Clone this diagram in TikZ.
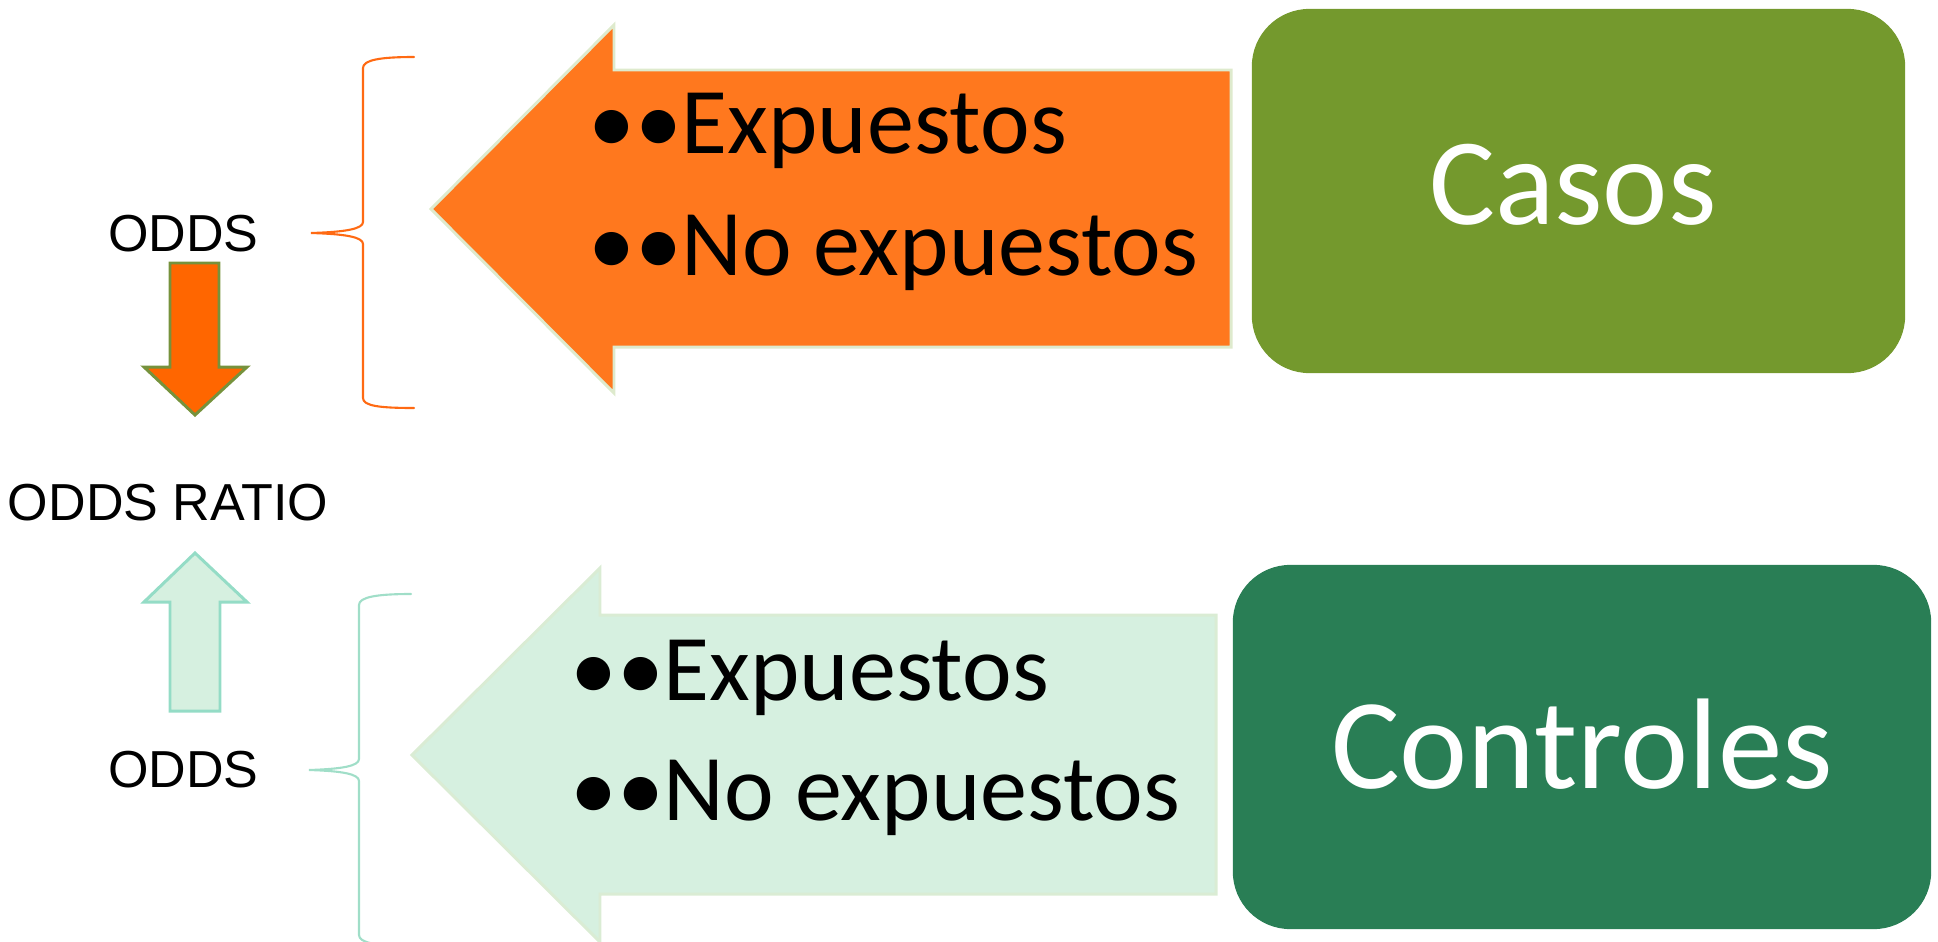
\documentclass[tikz,border=0pt]{standalone}
\usepackage{fontspec}
\setmainfont{Carlito}
\newfontfamily\arialfont{Liberation Sans}
\definecolor{casosgreen}{RGB}{116,153,45}
\definecolor{ctrlgreen}{RGB}{41,126,85}
\definecolor{arroworange}{RGB}{255,120,30}
\definecolor{arrowedge}{RGB}{222,234,205}
\definecolor{mintfill}{RGB}{214,240,224}
\definecolor{mintedge}{RGB}{218,236,212}
\definecolor{braceorange}{RGB}{255,106,19}
\definecolor{bracemint}{RGB}{160,222,200}
\definecolor{smallorange}{RGB}{255,102,0}
\definecolor{olive}{RGB}{118,146,60}
\definecolor{mintline}{RGB}{148,220,198}
\begin{document}
\begin{tikzpicture}[x=0.01cm,y=-0.01cm,
  bullettext/.style={anchor=base west, inner sep=0pt, font=\fontsize{26.75pt}{32pt}\selectfont},
  bigtext/.style={inner sep=0pt, text=white},
  oddstext/.style={anchor=base, inner sep=0pt, font=\arialfont\fontsize{14.8pt}{18pt}\selectfont},
  roundbox/.style={rounded corners=0.575cm, inner sep=0pt, minimum height=3.64cm},
  bracestyle/.style={line width=0.6pt, line cap=round},
  bigarrow/.style={line width=0.85pt, line join=miter},
  smallarrow/.style={line width=0.85pt, line join=miter}]
\useasboundingbox (0,0) rectangle (1938,942);
\clip (0,0) rectangle (1938,942);

% big left arrows
\draw[bigarrow, fill=arroworange, draw=arrowedge]
  (431,209) -- (614,25) -- (614,70) -- (1231,70) -- (1231,347) -- (614,347) -- (614,393) -- cycle;
\draw[bigarrow, fill=mintfill, draw=mintedge]
  (412,755) -- (600,568) -- (600,615) -- (1216,615) -- (1216,894) -- (600,894) -- (600,942) -- cycle;

% rounded boxes
\node[roundbox, fill=casosgreen, minimum width=6.53cm] (casos) at (1578.5,191) {};
\node[roundbox, fill=ctrlgreen, minimum width=6.98cm] (controles) at (1582,747) {};
\node[bigtext, font=\fontsize{35.2pt}{42pt}\selectfont] (casoslbl) at (1573,185) {Casos};
\node[bigtext, font=\fontsize{36.7pt}{44pt}\selectfont] (controleslbl) at (1582,744) {Controles};

% bullet texts
\node[bullettext] (t1) at (587.5,153) {••Expuestos};
\node[bullettext] (t2) at (587.5,275) {••No expuestos};
\node[bullettext] (b1) at (569.5,700) {••Expuestos};
\node[bullettext] (b2) at (569.5,820) {••No expuestos};

% braces
\draw[bracestyle, draw=braceorange]
  (414,57) .. controls (380,57) and (363,60) .. (363,68) -- (363,222)
  .. controls (363,229) and (345,232) .. (311,233)
  .. controls (345,234) and (363,237) .. (363,244) -- (363,398)
  .. controls (363,406) and (380,408) .. (414,408);
\draw[bracestyle, draw=bracemint]
  (411,594) .. controls (377,594) and (359,597) .. (359,605) -- (359,759)
  .. controls (359,766) and (342,769) .. (309,770)
  .. controls (342,771) and (359,774) .. (359,781) -- (359,935)
  .. controls (359,943) and (377,946) .. (411,946);

% labels
\node[oddstext] (odds1) at (183.5,251) {ODDS};
\node[oddstext] (odds2) at (183.5,787) {ODDS};
\node[oddstext] (ratio) at (168,520) {ODDS RATIO};

% small vertical arrows
\draw[smallarrow, fill=smallorange, draw=olive]
  (170,263) -- (219,263) -- (219,367) -- (247,367) -- (195,415) -- (144,367) -- (170,367) -- cycle;
\draw[smallarrow, fill=mintfill, draw=mintline]
  (195,553) -- (247,602) -- (220,602) -- (220,711) -- (170,711) -- (170,602) -- (144,602) -- cycle;
\end{tikzpicture}
\end{document}
